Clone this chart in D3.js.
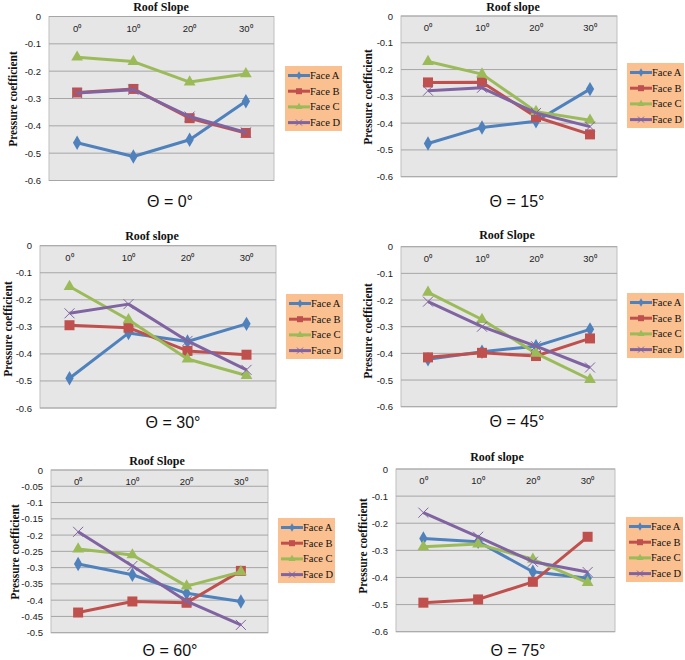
<!DOCTYPE html>
<html><head><meta charset="utf-8">
<script src="https://cdn.jsdelivr.net/npm/d3@7/dist/d3.min.js"></script>
<style>body{margin:0;background:#fff}svg{display:block}</style>
</head><body>
<svg id="c" width="685" height="660"></svg>
<script>
// ---------- data ----------
const categories = ["0⁰", "10⁰", "20⁰", "30⁰"];
const faces = ["Face A", "Face B", "Face C", "Face D"];
const thetaLabels = ["Θ = 0°", "Θ = 15°", "Θ = 30°", "Θ = 45°", "Θ = 60°", "Θ = 75°"];
const xTitles = ["Roof Slope", "Roof slope", "Roof slope", "Roof Slope", "Roof Slope", "Roof slope"];
const yTitle = "Pressure coefficient";
const yTicksA = [0, -0.1, -0.2, -0.3, -0.4, -0.5, -0.6];
const yTicksB = [0, -0.05, -0.1, -0.15, -0.2, -0.25, -0.3, -0.35, -0.4, -0.45, -0.5];

// rows: Face A, Face B, Face C, Face D ; columns: roof slope 0,10,20,30
const theta0  = [[-0.462, -0.512, -0.451, -0.310], [-0.278, -0.265, -0.372, -0.426], [-0.149, -0.165, -0.240, -0.210], [-0.280, -0.268, -0.366, -0.424]];
const theta15 = [[-0.476, -0.416, -0.393, -0.273], [-0.248, -0.247, -0.377, -0.442], [-0.170, -0.217, -0.357, -0.389], [-0.279, -0.268, -0.362, -0.413]];
const theta30 = [[-0.490, -0.323, -0.354, -0.289], [-0.294, -0.303, -0.389, -0.403], [-0.151, -0.274, -0.419, -0.480], [-0.250, -0.216, -0.352, -0.459]];
const theta45 = [[-0.422, -0.394, -0.373, -0.310], [-0.415, -0.398, -0.410, -0.344], [-0.171, -0.273, -0.400, -0.498], [-0.206, -0.300, -0.373, -0.453]];
const theta60 = [[-0.289, -0.322, -0.379, -0.404], [-0.438, -0.404, -0.408, -0.310], [-0.243, -0.261, -0.357, -0.313], [-0.190, -0.295, -0.403, -0.476]];
const theta75 = [[-0.256, -0.268, -0.379, -0.403], [-0.493, -0.481, -0.416, -0.250], [-0.287, -0.277, -0.333, -0.419], [-0.161, -0.250, -0.342, -0.380]];

const panelData = [theta0, theta15, theta30, theta45, theta60, theta75];
const panelTicks = [yTicksA, yTicksA, yTicksA, yTicksA, yTicksB, yTicksA];

// ---------- styling / layout ----------
const colors = ["#4F81BD", "#C0504D", "#9BBB59", "#8064A2"];
const markerTypes = ["diamond", "square", "triangle", "x"];
const layout = [
  {px:49,  py:16.5,  pw:225, ph:164,   lx:285, ly:66,  tx:161, ty:11,  thx:170, thy:207, ax:13,  ay:99,  tr:41},
  {px:401, py:16,    pw:216, ph:160.7, lx:627, ly:63,  tx:513, ty:11,  thx:517, thy:207, ax:368, ay:97,  tr:393},
  {px:40,  py:245.7, pw:236, ph:162.3, lx:286, ly:294, tx:152, ty:240, thx:173, thy:428, ax:8,   ay:329, tr:32},
  {px:401, py:246.7, pw:216, ph:160,   lx:627, ly:293, tx:507, ty:239, thx:517, thy:427, ax:368, ay:331, tr:393},
  {px:51,  py:470,   pw:217, ph:162.7, lx:278, ly:518, tx:157, ty:465, thx:170, thy:656, ax:15,  ay:552, tr:43},
  {px:396, py:469,   pw:219, ph:162.7, lx:626, ly:517, tx:497, ty:461, thx:518, thy:656, ax:363, ay:546, tr:388}
];
const serif = "'Liberation Serif','Times New Roman',serif";
const sans = "'Liberation Sans',Arial,sans-serif";

const svg = d3.select("#c");

function drawMarker(g, type, color, x, y, s) {
  if (type === "x") {
    const h = s / 2;
    g.append("path").attr("d", `M${x-h},${y-h}L${x+h},${y+h}M${x-h},${y+h}L${x+h},${y-h}`)
      .attr("stroke", color).attr("stroke-width", 1).attr("fill", "none");
    return;
  }
  const sym = type === "diamond" ? d3.symbolDiamond : type === "square" ? d3.symbolSquare : d3.symbolTriangle;
  const area = type === "square" ? s * s : s * s * 0.6;
  g.append("path").attr("d", d3.symbol().type(sym).size(area)())
    .attr("transform", `translate(${x},${y})`).attr("fill", color);
}

function fmt(v) { return v === 0 ? "0" : String(+v.toFixed(2)); }

panelData.forEach((data, i) => {
  const L = layout[i];
  const ticks = panelTicks[i];
  const x = d3.scaleBand().domain(categories).range([L.px, L.px + L.pw]).padding(0);
  const y = d3.scaleLinear().domain([d3.min(ticks), 0]).range([L.py + L.ph, L.py]);
  const g = svg.append("g");

  // plot background
  g.append("rect").attr("x", L.px).attr("y", L.py).attr("width", L.pw).attr("height", L.ph)
    .attr("fill", "#E6E6E6").attr("stroke", "#BFBFBF").attr("stroke-width", 1);
  // gridlines
  g.selectAll(".grid").data(ticks).enter().append("line")
    .attr("x1", L.px).attr("x2", L.px + L.pw)
    .attr("y1", d => y(d)).attr("y2", d => y(d))
    .attr("stroke", "#A6A6A6").attr("stroke-width", 1);
  // y tick labels
  g.selectAll(".yt").data(ticks).enter().append("text")
    .attr("x", L.tr).attr("y", d => y(d) + 3.5).attr("text-anchor", "end")
    .attr("font-family", sans).attr("font-size", 9.5).attr("fill", "#222").text(fmt);
  // category labels (axis at 0)
  g.selectAll(".xt").data(categories).enter().append("text")
    .attr("x", d => x(d) + x.bandwidth() / 2).attr("y", L.py + 15).attr("text-anchor", "middle")
    .attr("font-family", sans).attr("font-size", 9.5).attr("fill", "#222").text(d => d);
  // title
  g.append("text").attr("x", L.tx).attr("y", L.ty).attr("text-anchor", "middle")
    .attr("font-family", serif).attr("font-weight", "bold").attr("font-size", 12).attr("fill", "#111")
    .text(xTitles[i]);
  // y axis title
  g.append("text").attr("transform", `translate(${L.ax + 4},${L.ay}) rotate(-90)`).attr("text-anchor", "middle")
    .attr("font-family", serif).attr("font-weight", "bold").attr("font-size", 11.5).attr("fill", "#111")
    .text(yTitle);
  // theta label
  g.append("text").attr("x", L.thx).attr("y", L.thy).attr("text-anchor", "middle")
    .attr("font-family", sans).attr("font-size", 16).attr("fill", "#111").text(thetaLabels[i]);

  // series
  const line = d3.line().x((d, j) => x(categories[j]) + x.bandwidth() / 2).y(d => y(d));
  data.forEach((vals, s) => {
    g.append("path").datum(vals).attr("d", line).attr("fill", "none")
      .attr("stroke", colors[s]).attr("stroke-width", 3).attr("stroke-linejoin", "round");
    vals.forEach((v, j) => drawMarker(g, markerTypes[s], colors[s], x(categories[j]) + x.bandwidth() / 2, y(v), 10));
  });

  // legend
  const lg = g.append("g");
  lg.append("rect").attr("x", L.lx).attr("y", L.ly).attr("width", 57).attr("height", 65).attr("fill", "#FAC090");
  faces.forEach((f, s) => {
    const ey = L.ly + 9.5 + s * 15.7;
    lg.append("line").attr("x1", L.lx + 3).attr("x2", L.lx + 25).attr("y1", ey).attr("y2", ey)
      .attr("stroke", colors[s]).attr("stroke-width", 3);
    drawMarker(lg, markerTypes[s], colors[s], L.lx + 14, ey, 6);
    lg.append("text").attr("x", L.lx + 25).attr("y", ey + 3.5).attr("font-family", serif)
      .attr("font-size", 10.5).attr("fill", "#111").text(f);
  });
});
</script>
</body></html>
